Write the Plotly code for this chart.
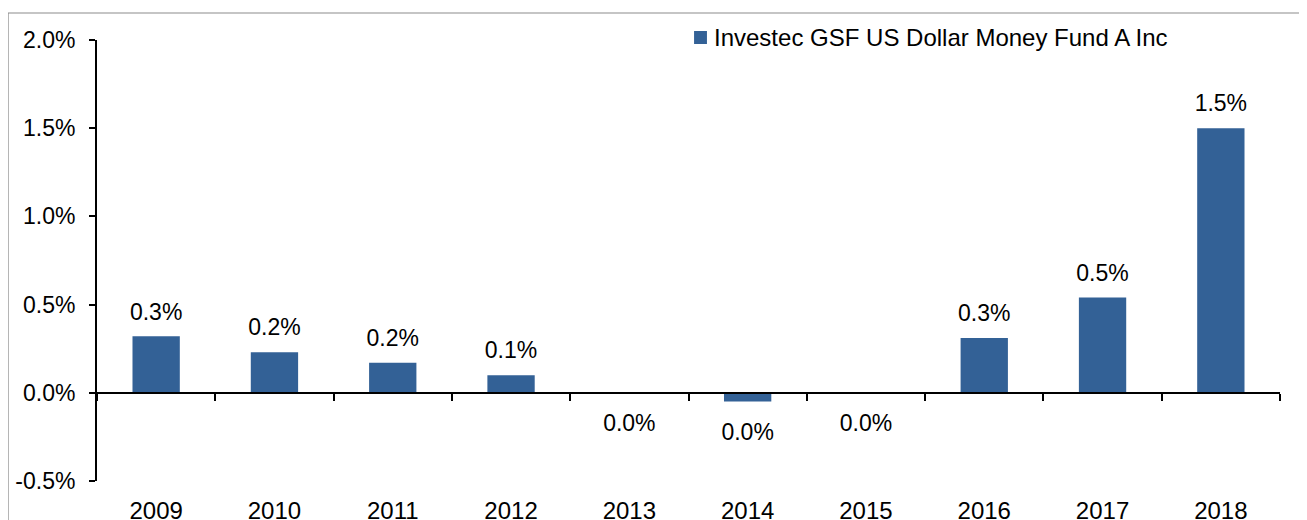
import plotly.graph_objects as go

years = ["2009", "2010", "2011", "2012", "2013", "2014", "2015", "2016", "2017", "2018"]
returns = [0.32, 0.23, 0.17, 0.10, 0.0, -0.05, 0.0, 0.31, 0.54, 1.50]
labels = ["0.3%", "0.2%", "0.2%", "0.1%", "0.0%", "0.0%", "0.0%", "0.3%", "0.5%", "1.5%"]
series_name = "Investec GSF US Dollar Money Fund A Inc"
y_ticks = [-0.5, 0.0, 0.5, 1.0, 1.5, 2.0]

BAR = "#336196"
FONT = "Arial, Liberation Sans, sans-serif"
FS = 23

fig = go.Figure()
fig.add_trace(go.Bar(
    x=years, y=returns, name=series_name, width=0.4,
    marker=dict(color=BAR, line=dict(width=0)),
    hoverinfo="skip", showlegend=False,
))
# data labels (invisible markers give the label offset from the bar end)
fig.add_trace(go.Scatter(
    x=years, y=returns, mode="markers+text", text=labels,
    textposition=["top center" if v > 0 else "bottom center" for v in returns],
    textfont=dict(size=FS, color="black", family=FONT),
    marker=dict(size=[16 if v > 0 else 32 for v in returns], opacity=0),
    showlegend=False, hoverinfo="skip", cliponaxis=False,
))
# invisible helper trace that carries the zero-level category axis
fig.add_trace(go.Scatter(
    x=years, y=returns, xaxis="x2", mode="markers",
    marker=dict(opacity=0), showlegend=False, hoverinfo="skip",
))

# legend (drawn manually to match the tight key/text spacing)
fig.add_shape(type="rect", xref="paper", yref="paper",
              x0=0.5047, x1=0.5156, y0=0.9909, y1=1.0204,
              line=dict(width=0), fillcolor=BAR)
fig.add_annotation(xref="paper", yref="paper", x=0.5195, y=1.0068,
                   xanchor="left", yanchor="middle", showarrow=False,
                   text=series_name, font=dict(size=24, color="black", family=FONT))

fig.update_layout(
    width=1299, height=512,
    margin=dict(l=89, r=27, t=32, b=39, autoexpand=False),
    paper_bgcolor="white", plot_bgcolor="white",
    font=dict(family=FONT, size=FS, color="black"),
    showlegend=False,
    xaxis=dict(type="category", categoryorder="array", categoryarray=years,
               range=[-0.5, 9.5], showline=False, ticks="", showgrid=False,
               zeroline=False, ticklabelstandoff=13, tickfont=dict(size=24),
               automargin=False),
    xaxis2=dict(type="category", categoryorder="array", categoryarray=years,
                range=[-0.5, 9.5], overlaying="x", anchor="free",
                position=(0 - y_ticks[0]) / (y_ticks[-1] - y_ticks[0]),
                side="bottom", showline=True, linecolor="black", linewidth=2,
                ticks="outside", tickson="boundaries", ticklen=7, tickwidth=2,
                tickcolor="black", showticklabels=False, showgrid=False,
                zeroline=False, automargin=False),
    yaxis=dict(range=[y_ticks[0], y_ticks[-1]], tickvals=y_ticks,
               ticktext=[f"{v:.1f}%" for v in y_ticks],
               showline=True, linecolor="black", linewidth=2,
               ticks="outside", ticklen=6, tickwidth=2, tickcolor="black",
               showgrid=False, zeroline=False, ticklabelstandoff=9,
               tickfont=dict(size=FS), automargin=False),
)
fig.add_shape(type="rect", xref="paper", yref="paper",
              x0=-0.0752, x1=1.022, y0=-0.3, y1=1.0612,
              line=dict(color="#8c8c8c", width=1.2), fillcolor="rgba(0,0,0,0)",
              layer="below")

fig.write_html("out.html")
